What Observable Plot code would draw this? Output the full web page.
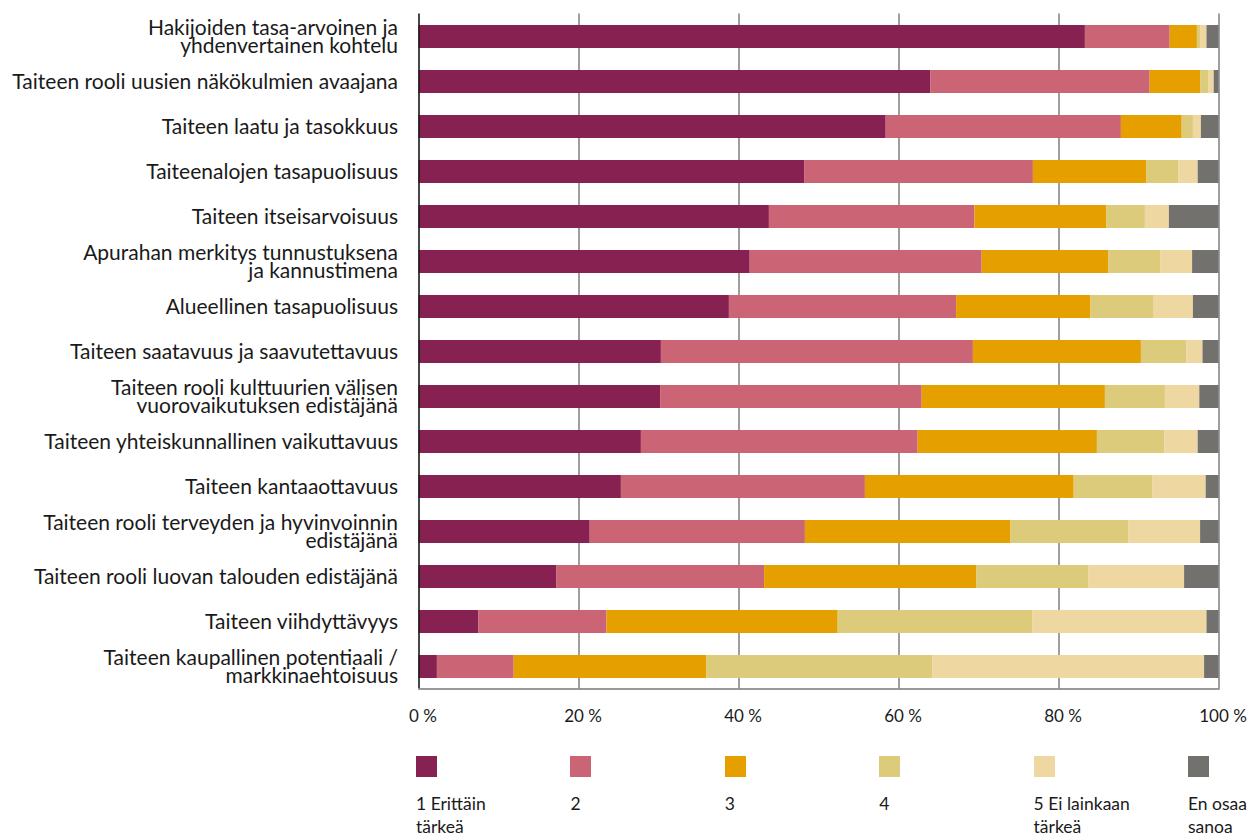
<!DOCTYPE html>
<html><head><meta charset="utf-8">
<script src="https://cdn.jsdelivr.net/npm/d3@7"></script>
<script src="https://cdn.jsdelivr.net/npm/@observablehq/plot@0.6"></script>
<style>
html,body{margin:0;padding:0;background:#fff;}
body{width:1249px;height:835px;overflow:hidden;font-family:Lato,sans-serif;}
#chart svg{display:block;}
#legend{position:relative;height:95px;}
.item{position:absolute;top:16px;}
.sw{width:21px;height:21px;}
.lab{margin-top:15px;font-size:17.5px;line-height:23px;white-space:pre-line;color:#1a1a1a;}
</style></head><body>
<div id="chart"></div><div id="legend"></div>
<script>
const categories = [
  "Hakijoiden tasa-arvoinen ja\nyhdenvertainen kohtelu",
  "Taiteen rooli uusien näkökulmien avaajana",
  "Taiteen laatu ja tasokkuus",
  "Taiteenalojen tasapuolisuus",
  "Taiteen itseisarvoisuus",
  "Apurahan merkitys tunnustuksena\nja kannustimena",
  "Alueellinen tasapuolisuus",
  "Taiteen saatavuus ja saavutettavuus",
  "Taiteen rooli kulttuurien välisen\nvuorovaikutuksen edistäjänä",
  "Taiteen yhteiskunnallinen vaikuttavuus",
  "Taiteen kantaaottavuus",
  "Taiteen rooli terveyden ja hyvinvoinnin\nedistäjänä",
  "Taiteen rooli luovan talouden edistäjänä",
  "Taiteen viihdyttävyys",
  "Taiteen kaupallinen potentiaali /\nmarkkinaehtoisuus"
];
const responses = ["1 Erittäin tärkeä", "2", "3", "4", "5 Ei lainkaan tärkeä", "En osaa sanoa"];
const legendLabels = ["1 Erittäin\ntärkeä", "2", "3", "4", "5 Ei lainkaan\ntärkeä", "En osaa\nsanoa"];
const colors = ["#872151", "#cb6474", "#e5a000", "#dccb7a", "#eed7a1", "#72716e"];

const r1 = [83.3, 64.0, 58.4, 48.2, 43.8, 41.4, 38.8, 30.3, 30.2, 27.8, 25.3, 21.4, 17.2, 7.5, 2.3];
const r2 = [10.6, 27.4, 29.4, 28.6, 25.7, 29.0, 28.4, 39.0, 32.7, 34.6, 30.5, 26.9, 26.0, 16.0, 9.6];
const r3 = [3.4, 6.3, 7.6, 14.2, 16.5, 15.8, 16.8, 21.0, 22.9, 22.4, 26.1, 25.7, 26.5, 28.9, 24.1];
const r4 = [0.4, 1.0, 1.4, 4.0, 4.8, 6.5, 7.9, 5.7, 7.5, 8.4, 9.8, 14.7, 14.0, 24.3, 28.2];
const r5 = [0.8, 0.7, 1.0, 2.4, 3.0, 4.0, 4.9, 2.0, 4.3, 4.2, 6.7, 9.0, 12.0, 21.8, 34.0];
const r6 = [1.5, 0.6, 2.2, 2.6, 6.2, 3.3, 3.2, 2.0, 2.4, 2.6, 1.6, 2.3, 4.3, 1.5, 1.8];
const xTicks = [0, 20, 40, 60, 80, 100];

const series = [r1, r2, r3, r4, r5, r6];
const data = categories.flatMap((c, i) => responses.map((r, j) => ({category: c, response: r, value: series[j][i]})));

const chart = Plot.plot({
  width: 1249, height: 740,
  marginLeft: 418.5, marginRight: 30.5, marginTop: 13.5, marginBottom: 51.5,
  style: {fontFamily: "Lato, sans-serif", color: "#1a1a1a", background: "#fff"},
  x: {domain: [0, 100], label: null},
  y: {domain: categories, paddingInner: 0.5, paddingOuter: 0.25, label: null},
  color: {domain: responses, range: colors},
  marks: [
    Plot.gridX(xTicks.slice(1), {stroke: "#6b6b6b", strokeOpacity: 1, strokeWidth: 1.3}),
    Plot.barX(data, {x: "value", y: "category", fill: "response"}),
    Plot.ruleX([0], {stroke: "#1a1a1a", strokeWidth: 1.6}),
    Plot.frame({anchor: "bottom", stroke: "#777", strokeWidth: 1.3}),
    Plot.axisX(xTicks, {tickSize: 0, tickPadding: 21, fontSize: 17, dx: 4, label: null, tickFormat: d => d + " %"}),
    Plot.axisY({tickSize: 0, tickPadding: 21, fontSize: 21, lineHeight: 0.86, dy: 1.5, label: null})
  ]
});
document.getElementById("chart").appendChild(chart);

const legend = document.getElementById("legend");
responses.forEach((r, i) => {
  const item = document.createElement("div");
  item.className = "item";
  item.style.left = (416 + i * 154.4) + "px";
  const sw = document.createElement("div");
  sw.className = "sw";
  sw.style.background = colors[i];
  const lab = document.createElement("div");
  lab.className = "lab";
  lab.textContent = legendLabels[i];
  item.appendChild(sw); item.appendChild(lab);
  legend.appendChild(item);
});
</script>
</body></html>
